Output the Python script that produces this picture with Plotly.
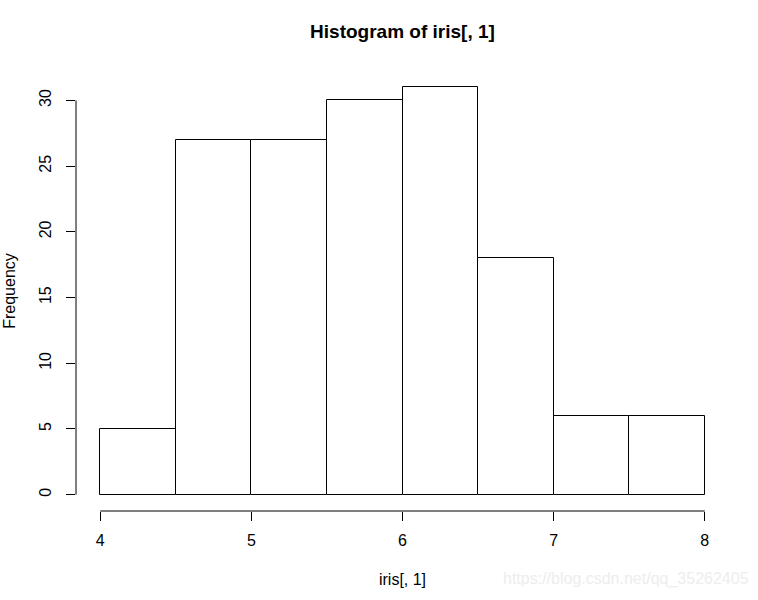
import plotly.graph_objects as go

bin_edges = [4.0, 4.5, 5.0, 5.5, 6.0, 6.5, 7.0, 7.5, 8.0]
counts = [5, 27, 27, 30, 31, 18, 6, 6]
x_ticks = [4, 5, 6, 7, 8]
y_ticks = [0, 5, 10, 15, 20, 25, 30]

mids = [(a + b) / 2 for a, b in zip(bin_edges[:-1], bin_edges[1:])]
widths = [b - a for a, b in zip(bin_edges[:-1], bin_edges[1:])]

FONT = "Liberation Sans, Arial, sans-serif"

fig = go.Figure()
fig.add_trace(go.Bar(
    x=mids, y=counts, width=widths,
    marker=dict(color="white", line=dict(color="black", width=1)),
    hoverinfo="x+y",
))

xr = (bin_edges[0], bin_edges[-1])
xpad = 0.04 * (xr[1] - xr[0])
ypad = 0.04 * max(counts)

fig.update_layout(
    width=758, height=600,
    margin=dict(l=76, r=29, t=71, b=89),
    paper_bgcolor="white", plot_bgcolor="white",
    showlegend=False,
    bargap=0,
    font=dict(family=FONT, size=16, color="black"),
    title=dict(text="<b>Histogram of iris[, 1]</b>", x=0.531, xanchor="center",
               y=0.947, yanchor="middle", font=dict(size=19, family=FONT)),
    xaxis=dict(range=[xr[0] - xpad, xr[1] + xpad], tickvals=x_ticks,
               ticks="outside", ticklen=9, tickcolor="black", tickwidth=1,
               showgrid=False, zeroline=False, showline=False,
               ticklabelstandoff=6, automargin=False,
               title=dict(text="iris[, 1]", standoff=25, font=dict(size=16))),
    yaxis=dict(range=[-ypad, max(counts) + ypad], tickvals=y_ticks,
               ticks="outside", ticklen=9, tickcolor="black", tickwidth=1,
               tickangle=-90,
               showgrid=False, zeroline=False, showline=False,
               ticklabelstandoff=9, automargin=False,
               title=dict(text="Frequency", standoff=16, font=dict(size=16))),
)

# R-style axis lines spanning first to last tick
fig.add_shape(type="line", xref="x", yref="paper",
              x0=x_ticks[0], x1=x_ticks[-1], y0=0, y1=0,
              line=dict(color="black", width=1))
fig.add_shape(type="line", xref="paper", yref="y",
              x0=0, x1=0, y0=y_ticks[0], y1=y_ticks[-1],
              line=dict(color="black", width=1))

fig.add_annotation(text="https://blog.csdn.net/qq_35262405", xref="paper", yref="paper",
                   x=1.034, y=-0.155, xanchor="right", yanchor="middle",
                   showarrow=False, font=dict(size=16, color="#ededed", family=FONT))

fig.write_html("out.html")
